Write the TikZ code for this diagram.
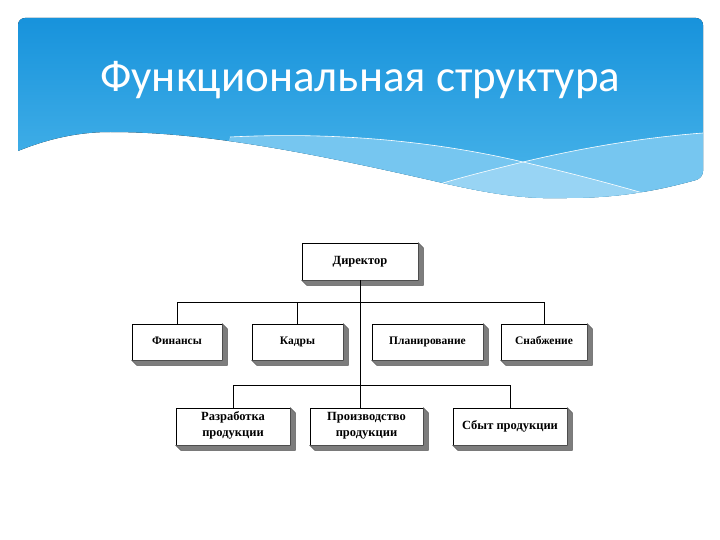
\documentclass[tikz,border=0pt]{standalone}
\usepackage{fontspec}
\setmainfont{Liberation Serif}
\newfontfamily\titlefont{Carlito}
\usetikzlibrary{positioning}
\definecolor{BannerTop}{RGB}{18,143,218}
\definecolor{BannerLow}{RGB}{82,186,236}
\definecolor{BandOne}{RGB}{118,198,240}
\definecolor{BandTwo}{RGB}{152,212,244}
\definecolor{BoxShade}{RGB}{125,125,125}

\begin{document}
\begin{tikzpicture}[x=1pt, y=-1pt,
    unit/.style={draw=black, fill=white, line width=0.6pt, inner sep=0pt,
      minimum height=36, font=\fontsize{11.5}{13}\selectfont\bfseries, align=center,
      execute at begin node=\strut, execute at end node=\strut},
    bigunit/.style={unit, minimum height=37, font=\fontsize{12.5}{16}\selectfont\bfseries},
    link/.style={line width=0.7pt}]
  \useasboundingbox (0,0) rectangle (720,540);
  % banner
  \begin{scope}
    \clip[rounded corners=7] (18,151) -- (18,18) -- (703,18) -- (703,178) [sharp corners]
      .. controls (660,190) and (620,198) .. (567,198)
      .. controls (530,199) and (500,196) .. (443,183)
      .. controls (300,150) and (200,132) .. (110,132)
      .. controls (80,132) and (50,138) .. (18,151);
    \fill[top color=BannerTop, bottom color=BannerLow] (0,0) rectangle (720,220);
    \fill[BandOne] (230,137) .. controls (330,132) and (430,140) .. (523,162)
      .. controls (590,146) and (650,137) .. (703,133) -- (720,240) -- (200,240) -- cycle;
    \fill[BandTwo] (443,183) .. controls (470,175) and (495,169) .. (523,162)
      .. controls (575,174) and (615,185) .. (643,193) -- (650,240) -- (430,240) -- cycle;
    \draw[white, line width=0.6pt] (230,137) .. controls (330,132) and (430,140) .. (523,162)
      .. controls (575,174) and (615,185) .. (643,193);
    \draw[white, line width=0.6pt] (443,183) .. controls (470,175) and (495,169) .. (523,162)
      .. controls (590,146) and (650,137) .. (703,133);
  \end{scope}
  \node[white, anchor=base west, inner sep=0pt, font=\titlefont\fontsize{45}{52}\selectfont]
    (title) at (100,92) {Функциональная структура};

  % chart
  \node[bigunit, minimum width=116] (dir)    at (360,261.5) {Директор};
  \node[unit, minimum width=90]  (fin)    at (177,342)   {Финансы};
  \node[unit, minimum width=91]  (kadry)  at (297.5,342) {Кадры};
  \node[unit, minimum width=111] (plan)   at (427.5,342) {Планирование};
  \node[unit, minimum width=86]  (snab)   at (544,342)   {Снабжение};
  \node[bigunit, minimum width=114] (razr)   at (233,426.5) {Разработка\\продукции};
  \node[bigunit, minimum width=113] (proizv) at (366.5,426.5) {Производство\\продукции};
  \node[bigunit, minimum width=114] (sbyt)   at (510,426.5) {Сбыт продукции};
  \foreach \n in {dir,fin,kadry,plan,snab,razr,proizv,sbyt}
    \filldraw[fill=BoxShade, draw=black!70, line width=0.4pt] (\n.south west) -- ([shift={(5,5)}]\n.south west)
      -- ([shift={(5,5)}]\n.south east) -- ([shift={(5,5)}]\n.north east) -- (\n.north east)
      -- (\n.south east) -- cycle;

  \coordinate (busA) at (360,302);
  \coordinate (busB) at (360,385);
  \draw[link] (dir.south) -- (dir.south |- proizv.north);
  \draw[link] (fin.north) -- (fin.north |- busA) -- (snab.north |- busA) -- (snab.north);
  \draw[link] (kadry.north) -- (kadry.north |- busA);
  \draw[link] (razr.north) -- (razr.north |- busB) -- (sbyt.north |- busB) -- (sbyt.north);
\end{tikzpicture}
\end{document}
